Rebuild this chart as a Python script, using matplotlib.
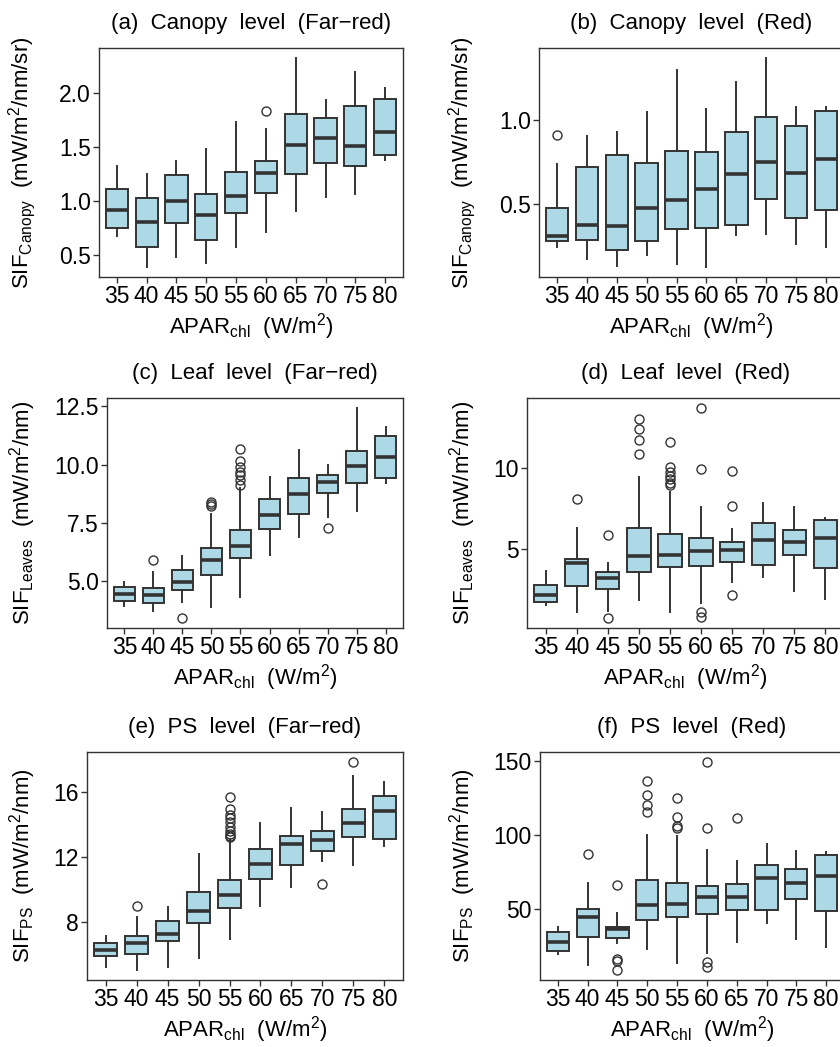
"""SIF vs APAR_chl box plots, six panels (canopy / leaf / PS, far-red and red)."""
import matplotlib

matplotlib.use("Agg")
import matplotlib.pyplot as plt

plt.rcParams["font.family"] = ["Liberation Sans", "DejaVu Sans"]
plt.rcParams["mathtext.default"] = "regular"

APAR = ["35", "40", "45", "50", "55", "60", "65", "70", "75", "80"]

# (a) canopy, far-red
a_lo = [0.677, 0.394, 0.486, 0.425, 0.58, 0.717, 0.911, 1.037, 1.068, 1.378]
a_q1 = [0.754, 0.575, 0.80, 0.64, 0.889, 1.077, 1.252, 1.354, 1.323, 1.431]
a_med = [0.917, 0.81, 1.003, 0.874, 1.05, 1.258, 1.517, 1.582, 1.508, 1.643]
a_q3 = [1.117, 1.025, 1.24, 1.065, 1.274, 1.375, 1.812, 1.772, 1.883, 1.945]
a_hi = [1.33, 1.25, 1.375, 1.483, 1.73, 1.668, 2.323, 1.938, 2.194, 2.046]
a_out = [[], [], [], [], [], [1.837], [], [], [], []]

# (b) canopy, red
b_lo = [0.247, 0.174, 0.130, 0.20, 0.144, 0.128, 0.318, 0.322, 0.263, 0.247]
b_q1 = [0.279, 0.289, 0.227, 0.283, 0.35, 0.36, 0.377, 0.53, 0.419, 0.466]
b_med = [0.308, 0.379, 0.37, 0.478, 0.524, 0.593, 0.682, 0.751, 0.684, 0.769]
b_q3 = [0.48, 0.721, 0.796, 0.747, 0.818, 0.81, 0.931, 1.018, 0.968, 1.059]
b_hi = [0.741, 0.909, 0.931, 1.051, 1.298, 1.069, 1.227, 1.37, 1.083, 1.083]
b_out = [[0.915], [], [], [], [], [], [], [], [], []]

# (c) leaf, far-red
c_lo = [3.93, 3.70, 4.10, 3.89, 4.34, 6.14, 6.89, 7.77, 8.03, 9.20]
c_q1 = [4.16, 4.07, 4.64, 5.27, 5.99, 7.23, 7.89, 8.77, 9.21, 9.44]
c_med = [4.47, 4.41, 4.96, 5.89, 6.49, 7.86, 8.74, 9.27, 9.96, 10.33]
c_q3 = [4.74, 4.71, 5.47, 6.41, 7.20, 8.53, 9.41, 9.57, 10.60, 11.24]
c_hi = [4.97, 5.41, 6.10, 7.89, 9.00, 9.46, 10.64, 9.99, 12.41, 11.60]
c_out = [[], [5.9], [3.44], [8.39, 8.30, 8.21],
         [10.66, 10.16, 9.89, 9.70, 9.56, 9.36, 9.14], [], [], [7.29], [], []]

# (d) leaf, red
d_lo = [1.60, 1.13, 1.19, 1.91, 1.17, 1.70, 2.97, 3.30, 2.42, 1.93]
d_q1 = [1.74, 2.77, 2.54, 3.63, 3.91, 3.98, 4.20, 4.02, 4.65, 3.85]
d_med = [2.21, 4.14, 3.22, 4.61, 4.65, 4.92, 4.98, 5.55, 5.47, 5.68]
d_q3 = [2.81, 4.43, 3.61, 6.29, 5.92, 5.70, 5.47, 6.60, 6.19, 6.82]
d_hi = [3.65, 6.29, 4.14, 9.49, 8.57, 7.64, 6.23, 7.85, 7.64, 6.95]
d_out = [[], [8.11], [5.88, 0.80], [13.05, 12.40, 11.74, 10.88],
         [11.60, 10.08, 9.80, 9.53, 9.32, 9.12, 8.98],
         [13.69, 9.98, 1.17, 0.86], [9.86, 7.66, 2.21], [], [], []]

# (e) PS, far-red
e_lo = [5.22, 5.08, 5.22, 5.79, 6.96, 9.02, 10.15, 11.78, 11.51, 12.69]
e_q1 = [5.93, 6.07, 6.82, 7.96, 8.89, 10.64, 11.53, 12.39, 13.22, 13.14]
e_med = [6.27, 6.70, 7.29, 8.71, 9.68, 11.59, 12.79, 13.08, 14.13, 14.84]
e_q3 = [6.70, 7.17, 8.10, 9.87, 10.58, 12.49, 13.28, 13.58, 14.94, 15.76]
e_hi = [7.17, 8.32, 8.91, 12.18, 13.10, 14.13, 15.03, 14.76, 17.02, 16.65]
e_out = [[], [9.0], [], [],
         [15.68, 14.96, 14.62, 14.42, 14.15, 13.87, 13.60, 13.40, 13.30, 13.24],
         [], [], [10.36], [17.83], []]

# (f) PS, red
f_lo = [19.4, 11.8, 26.8, 23.0, 13.2, 20.1, 27.2, 40.2, 29.5, 23.9]
f_q1 = [21.4, 30.6, 30.4, 42.0, 44.4, 46.7, 49.3, 49.3, 56.7, 48.4]
f_med = [27.7, 44.6, 36.4, 52.5, 53.3, 58.0, 57.6, 70.8, 67.4, 72.1]
f_q3 = [33.9, 50.0, 37.9, 69.4, 67.4, 65.2, 66.7, 79.5, 76.8, 86.4]
f_hi = [37.7, 67.4, 46.9, 100.0, 99.3, 90.0, 82.1, 93.8, 88.8, 88.2]
f_out = [[], [86.8], [66.1, 16.1, 14.5, 8.7], [136.2, 127.2, 119.9, 115.4],
         [125.0, 112.3, 106.0, 104.7], [149.1, 104.5, 13.6, 10.5],
         [111.4], [], [], []]

TITLES = [
    "(a)  Canopy  level  (Far\u2212red)", "(b)  Canopy  level  (Red)",
    "(c)  Leaf  level  (Far\u2212red)", "(d)  Leaf  level  (Red)",
    "(e)  PS  level  (Far\u2212red)", "(f)  PS  level  (Red)",
]
YLABELS = [
    r"SIF$_{Canopy}$  (mW/m$^2$/nm/sr)", r"SIF$_{Canopy}$  (mW/m$^2$/nm/sr)",
    r"SIF$_{Leaves}$  (mW/m$^2$/nm)", r"SIF$_{Leaves}$  (mW/m$^2$/nm)",
    r"SIF$_{PS}$  (mW/m$^2$/nm)", r"SIF$_{PS}$  (mW/m$^2$/nm)",
]
YTICKS = [
    [0.5, 1.0, 1.5, 2.0], [0.5, 1.0], [5.0, 7.5, 10.0, 12.5],
    [5, 10], [8, 12, 16], [50, 100, 150],
]
YTICKLABELS = [
    ["0.5", "1.0", "1.5", "2.0"], ["0.5", "1.0"], ["5.0", "7.5", "10.0", "12.5"],
    ["5", "10"], ["8", "12", "16"], ["50", "100", "150"],
]
PANELS = [
    (a_lo, a_q1, a_med, a_q3, a_hi, a_out),
    (b_lo, b_q1, b_med, b_q3, b_hi, b_out),
    (c_lo, c_q1, c_med, c_q3, c_hi, c_out),
    (d_lo, d_q1, d_med, d_q3, d_hi, d_out),
    (e_lo, e_q1, e_med, e_q3, e_hi, e_out),
    (f_lo, f_q1, f_med, f_q3, f_hi, f_out),
]

W, H = 840, 1047
# axes boxes in pixels: left, top, right, bottom
BOXES = [
    (99, 48, 403, 277), (539, 48, 844, 277),
    (107, 398, 403, 628), (527, 398, 844, 628),
    (87, 752, 403, 980), (540, 752, 844, 980),
]
YLABEL_X = [38, 478, 38, 478, 38, 478]

FILL = "#ADD8E6"
DARK = "#333333"
FS_TICK = 16.5
FS_LAB = 16
FS_TITLE = 16

fig = plt.figure(figsize=(W / 100, H / 100), dpi=100)
fig.patch.set_facecolor("white")

for i, (lo, q1, med, q3, hi, out) in enumerate(PANELS):
    l, t, r, b = BOXES[i]
    ax = fig.add_axes([l / W, 1 - b / H, (r - l) / W, (b - t) / H])
    stats = [
        {"whislo": lo[k], "q1": q1[k], "med": med[k], "q3": q3[k],
         "whishi": hi[k], "fliers": out[k]}
        for k in range(len(APAR))
    ]
    ax.bxp(
        stats,
        positions=range(1, len(APAR) + 1),
        widths=0.75,
        patch_artist=True,
        showcaps=False,
        boxprops={"facecolor": FILL, "edgecolor": DARK, "linewidth": 1.4},
        medianprops={"color": DARK, "linewidth": 2.6, "solid_capstyle": "butt"},
        whiskerprops={"color": DARK, "linewidth": 1.4},
        flierprops={"marker": "o", "markerfacecolor": "none",
                    "markeredgecolor": DARK, "markersize": 6.5, "markeredgewidth": 1.0},
    )
    ax.set_xlim(0.4, len(APAR) + 0.6)
    ax.set_xticks(range(1, len(APAR) + 1))
    ax.set_xticklabels(APAR)
    ax.set_yticks(YTICKS[i])
    ax.set_yticklabels(YTICKLABELS[i])
    ax.tick_params(direction="out", length=4, width=1, color=DARK,
                   labelsize=FS_TICK, labelcolor="black", pad=2)
    for s in ax.spines.values():
        s.set_color(DARK)
        s.set_linewidth(1.0)
    ax.set_title(TITLES[i], fontsize=FS_TITLE, pad=14)
    ax.set_xlabel(r"APAR$_{chl}$  (W/m$^2$)", fontsize=FS_LAB)
    ax.xaxis.set_label_coords(0.5, -34 / (b - t))
    ax.set_ylabel(YLABELS[i], fontsize=FS_LAB)
    ax.yaxis.set_label_coords((YLABEL_X[i] - l) / (r - l), 0.5)

fig.savefig("out.png", dpi=100, facecolor="white")
plt.close(fig)
